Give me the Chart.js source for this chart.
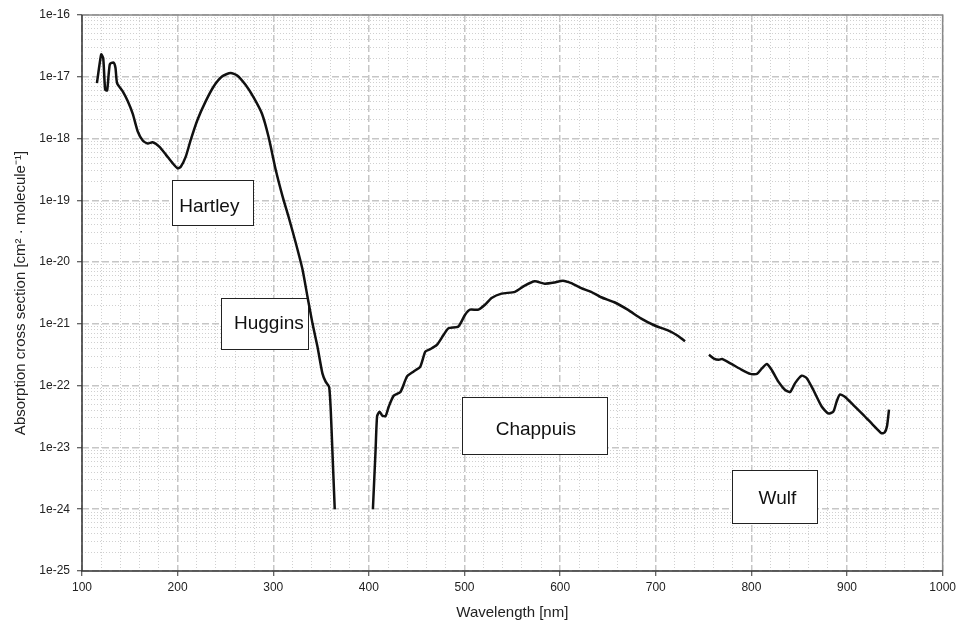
<!DOCTYPE html>
<html lang="en">
<head>
  <meta charset="UTF-8">
  <title>Ozone absorption cross section</title>
  <script src="https://cdn.jsdelivr.net/npm/chart.js@4.4.1/dist/chart.umd.min.js"></script>
  <style>
    body { margin: 0; background: #fff; }
    #wrap { width: 960px; height: 622px; }
  </style>
</head>
<body>
  <div id="wrap"><canvas id="chart" width="960" height="622"></canvas></div>
  <script>
    // Hartley + Huggins bands (nm, cm^2 / molecule)
    const uvNm = [115.6, 120.1, 122.2, 124.2, 126.3, 129.1, 132.9, 135.0, 136.7, 142.6, 147.9, 153.1, 158.3, 163.5, 168.7, 173.9, 180.8, 187.7, 194.7, 199.9, 203.3, 208.5, 213.7, 220.7, 229.3, 238.0, 246.7, 255.4, 262.3, 271.0, 279.6, 288.3, 295.2, 302.5, 309.8, 316.8, 323.7, 330.6, 335.8, 341.0, 346.2, 351.4, 354.9, 358.4, 360.1, 361.8, 364.3];
    const uvVal = [7.9e-18, 2.3e-17, 2.0e-17, 6.2e-18, 6.0e-18, 1.6e-17, 1.7e-17, 1.4e-17, 7.9e-18, 5.8e-18, 4.0e-18, 2.5e-18, 1.3e-18, 9.3e-19, 8.3e-19, 8.7e-19, 7.4e-19, 5.5e-19, 4.0e-19, 3.3e-19, 3.5e-19, 5.1e-19, 9.5e-19, 2.0e-18, 4.0e-18, 7.1e-18, 1.02e-17, 1.15e-17, 1.05e-17, 7.4e-18, 4.6e-18, 2.5e-18, 1.05e-18, 3.16e-19, 1.15e-19, 4.9e-20, 2.0e-20, 7.6e-21, 2.75e-21, 1.02e-21, 4.3e-22, 1.58e-22, 1.15e-22, 9.55e-23, 4.07e-23, 9.1e-24, 1.0e-24];

    // Chappuis band
    const visNm = [404.2, 407.0, 408.6, 411.1, 413.8, 417.4, 420.8, 426.0, 433.0, 439.9, 446.8, 453.8, 459.0, 464.2, 471.1, 478.0, 483.2, 493.6, 500.6, 505.8, 514.5, 521.4, 528.3, 538.7, 552.7, 563.0, 573.5, 583.9, 594.3, 602.9, 611.6, 622.0, 632.4, 642.8, 656.7, 670.6, 684.4, 698.3, 712.2, 722.6, 730.6];
    const visVal = [1.0e-24, 9.1e-24, 3.2e-23, 3.8e-23, 3.3e-23, 3.2e-23, 4.6e-23, 6.9e-23, 7.9e-23, 1.41e-22, 1.7e-22, 2.04e-22, 3.55e-22, 3.9e-22, 4.57e-22, 6.6e-22, 8.5e-22, 9.1e-22, 1.41e-21, 1.7e-21, 1.7e-21, 2.04e-21, 2.63e-21, 3.09e-21, 3.3e-21, 4.17e-21, 4.9e-21, 4.47e-21, 4.68e-21, 5.0e-21, 4.57e-21, 3.8e-21, 3.3e-21, 2.7e-21, 2.24e-21, 1.7e-21, 1.23e-21, 9.5e-22, 7.9e-22, 6.5e-22, 5.25e-22];

    // Wulf band
    const irNm = [755.6, 760.8, 766.0, 769.4, 778.0, 788.5, 798.9, 805.8, 811.0, 816.2, 821.4, 828.4, 835.3, 840.5, 845.7, 852.7, 857.9, 864.8, 873.5, 880.4, 885.7, 889.1, 892.5, 897.7, 906.4, 916.8, 927.3, 935.9, 939.3, 941.8, 943.9];
    const irVal = [3.16e-22, 2.75e-22, 2.63e-22, 2.7e-22, 2.3e-22, 1.86e-22, 1.55e-22, 1.55e-22, 1.9e-22, 2.24e-22, 1.78e-22, 1.15e-22, 8.5e-23, 7.9e-23, 1.1e-22, 1.45e-22, 1.32e-22, 8.5e-23, 4.6e-23, 3.55e-23, 3.8e-23, 5.5e-23, 7.2e-23, 6.6e-23, 4.9e-23, 3.4e-23, 2.3e-23, 1.7e-23, 1.74e-23, 2.2e-23, 4.1e-23];

    // band labels: name, centre (nm, value), box size
    const bandNames = ['Hartley', 'Huggins', 'Chappuis', 'Wulf'];
    const bandNm = [236.3, 291.2, 573.5, 824.1];
    const bandVal = [9.3e-20, 1.0e-21, 2.24e-23, 1.62e-24];
    const bandW = [81, 87, 145, 85];
    const bandH = [45, 51, 57, 53];
    const bandDx = [-3, 4, 1, 3];
    const bandDy = [4, 0, 4, 2];

    const xMin = 100, xMax = 1000, xStep = 20, xLabelStep = 100;
    const yMinExp = -25, yMaxExp = -16;

    const FONT = '"Liberation Sans", Arial, sans-serif';

    function toPoints(xs, ys) {
      return xs.map((x, i) => ({ x: x, y: ys[i] }));
    }
    function isDecade(v) {
      const l = Math.log10(v);
      return Math.abs(l - Math.round(l)) < 1e-6;
    }

    const lineStyle = {
      borderColor: '#111',
      borderWidth: 2.5,
      pointRadius: 0,
      tension: 0.2,
      fill: false
    };

    // white boxes with the band names, drawn above the grid, below the curve
    const bandBoxes = {
      id: 'bandBoxes',
      beforeDatasetsDraw(chart) {
        const { ctx, scales: { x, y } } = chart;
        ctx.save();
        bandNames.forEach((name, i) => {
          const cx = x.getPixelForValue(bandNm[i]);
          const cy = y.getPixelForValue(bandVal[i]);
          const left = Math.round(cx - bandW[i] / 2) + 0.5;
          const top = Math.round(cy - bandH[i] / 2) + 0.5;
          ctx.fillStyle = '#fff';
          ctx.fillRect(left, top, bandW[i], bandH[i]);
          ctx.strokeStyle = '#222';
          ctx.lineWidth = 1;
          ctx.strokeRect(left, top, bandW[i], bandH[i]);
          ctx.fillStyle = '#111';
          ctx.font = '19px ' + FONT;
          ctx.textAlign = 'center';
          ctx.textBaseline = 'middle';
          ctx.fillText(name, cx + bandDx[i], cy + bandDy[i]);
        });
        ctx.restore();
      }
    };

    // plot frame: dark axes left/bottom, grey top/right
    const frame = {
      id: 'frame',
      afterDatasetsDraw(chart) {
        const { ctx, chartArea: a } = chart;
        ctx.save();
        ctx.lineWidth = 1.5;
        ctx.strokeStyle = '#888';
        ctx.beginPath();
        ctx.moveTo(a.left, a.top);
        ctx.lineTo(a.right, a.top);
        ctx.lineTo(a.right, a.bottom);
        ctx.stroke();
        ctx.strokeStyle = '#333';
        ctx.beginPath();
        ctx.moveTo(a.left, a.top);
        ctx.lineTo(a.left, a.bottom);
        ctx.lineTo(a.right, a.bottom);
        ctx.stroke();
        ctx.restore();
      }
    };

    new Chart(document.getElementById('chart'), {
      type: 'line',
      data: {
        datasets: [
          Object.assign({ label: 'Hartley / Huggins', data: toPoints(uvNm, uvVal) }, lineStyle),
          Object.assign({ label: 'Chappuis', data: toPoints(visNm, visVal) }, lineStyle),
          Object.assign({ label: 'Wulf', data: toPoints(irNm, irVal) }, lineStyle)
        ]
      },
      options: {
        responsive: false,
        animation: false,
        layout: { padding: { top: 15, right: 13, bottom: 0, left: 0 } },
        plugins: {
          legend: { display: false },
          tooltip: { enabled: false }
        },
        scales: {
          x: {
            type: 'linear',
            min: xMin,
            max: xMax,
            afterFit(scale) { scale.height = 51; },
            ticks: {
              stepSize: xStep,
              autoSkip: false,
              maxRotation: 0,
              padding: 4,
              color: '#222',
              font: { family: FONT, size: 12 },
              callback: v => (v % xLabelStep === 0 ? String(v) : '')
            },
            grid: {
              color: c => (c.tick && c.tick.value % xLabelStep === 0 ? '#c6c6c6' : '#d0d0d0'),
              lineWidth: c => (c.tick && c.tick.value % xLabelStep === 0 ? 1.5 : 1),
              tickLength: 5,
              tickColor: c => (c.tick && c.tick.value % xLabelStep === 0 ? '#333' : 'rgba(0,0,0,0)'),
              tickWidth: 1
            },
            border: {
              display: false,
              dash: c => (c.tick && c.tick.value % xLabelStep === 0 ? [7, 3] : [1, 2])
            },
            title: {
              display: true,
              text: 'Wavelength [nm]',
              color: '#222',
              font: { family: FONT, size: 15 },
              padding: { top: 0, bottom: 0 }
            }
          },
          y: {
            type: 'logarithmic',
            min: Math.pow(10, yMinExp),
            max: Math.pow(10, yMaxExp),
            afterFit(scale) { scale.width = 82; },
            afterBuildTicks(scale) {
              const ticks = [];
              for (let e = yMinExp; e <= yMaxExp; e++) {
                ticks.push({ value: Number('1e' + e) });
                if (e < yMaxExp) {
                  for (let m = 2; m <= 9; m++) ticks.push({ value: Number(m + 'e' + e) });
                }
              }
              scale.ticks = ticks;
            },
            ticks: {
              autoSkip: false,
              padding: 7,
              color: '#222',
              font: { family: FONT, size: 12 },
              callback: v => (isDecade(v) ? '1e' + Math.round(Math.log10(v)) : '')
            },
            grid: {
              color: c => (c.tick && isDecade(c.tick.value) ? '#c6c6c6' : '#d0d0d0'),
              lineWidth: c => (c.tick && isDecade(c.tick.value) ? 1.5 : 1),
              tickLength: 5,
              tickColor: c => (c.tick && isDecade(c.tick.value) ? '#333' : 'rgba(0,0,0,0)'),
              tickWidth: 1
            },
            border: {
              display: false,
              dash: c => (c.tick && isDecade(c.tick.value) ? [7, 3] : [1, 2])
            },
            title: {
              display: true,
              text: 'Absorption cross section [cm² · molecule⁻¹]',
              color: '#222',
              font: { family: FONT, size: 15 },
              padding: { top: 12, bottom: 0 }
            }
          }
        }
      },
      plugins: [bandBoxes, frame]
    });
  </script>
</body>
</html>
